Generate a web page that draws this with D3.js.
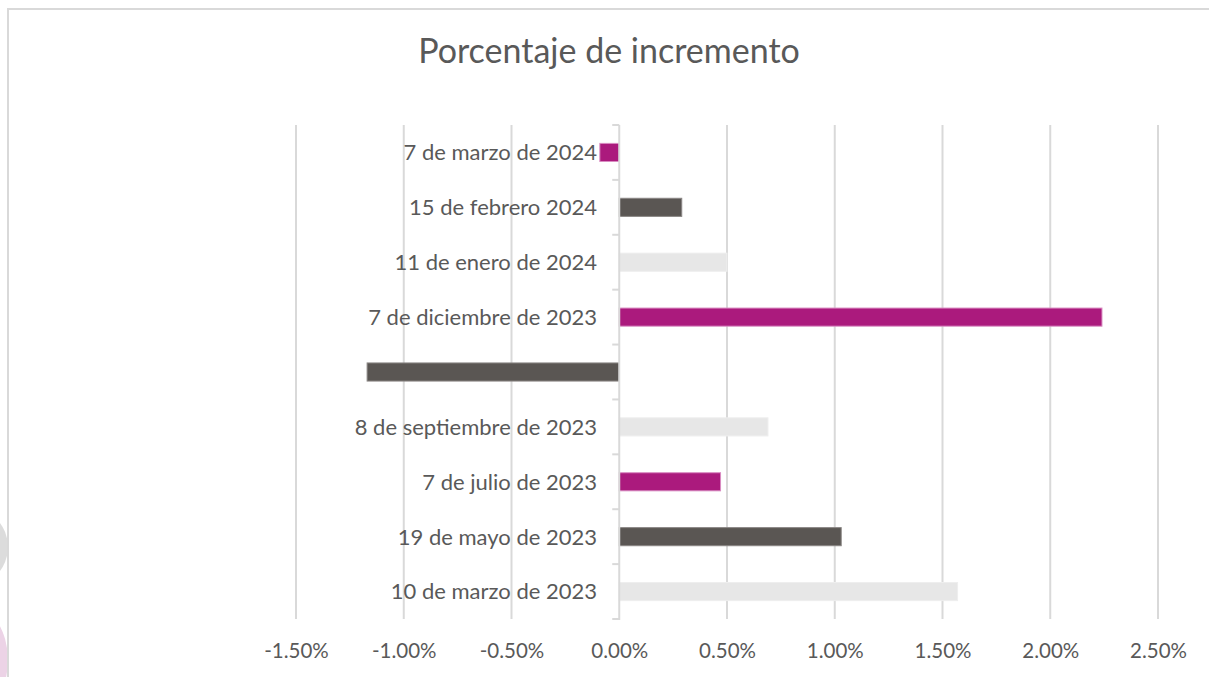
<!DOCTYPE html>
<html>
<head>
<meta charset="utf-8">
<script src="https://cdn.jsdelivr.net/npm/d3@7"></script>
<style>
  html, body { margin: 0; padding: 0; background: #ffffff; }
  svg { display: block; }
  text { font-family: Lato, "Noto Sans", sans-serif; fill: #595959; }
</style>
</head>
<body>
<div id="chart"></div>
<script>
// categories, top to bottom as shown
var categories = [
    "7 de marzo de 2024",
    "15 de febrero 2024",
    "11 de enero de 2024",
    "7 de diciembre de 2023",
    "6 de octubre de 2023",
    "8 de septiembre de 2023",
    "7 de julio de 2023",
    "19 de mayo de 2023",
    "10 de marzo de 2023"
];
// percentage change (fraction)
var values = [-0.0009, 0.0029, 0.0050, 0.0224, -0.0117, 0.0069, 0.0047, 0.0103, 0.0157];
var colorGroup = ["magenta", "dark", "light", "magenta", "dark", "light", "magenta", "dark", "light"];
var tickValues = [-0.015, -0.01, -0.005, 0, 0.005, 0.01, 0.015, 0.02, 0.025];
var title = "Porcentaje de incremento";

function init() {
    var w = 1209;
    var h = 677;

    var fills = { magenta: "#ab1a7d", dark: "#5a5653", light: "#e7e7e7" };
    var strokes = { magenta: "#d98cc2", dark: "#8a8684", light: "#eeeeee" };

    var svg = d3.select("#chart")
        .append("svg")
        .attr("width", w)
        .attr("height", h);

    // bits of the background peeking out on the left
    svg.append("ellipse")
        .attr("cx", -30).attr("cy", 547).attr("rx", 38).attr("ry", 39)
        .attr("fill", "#dcdcdc");
    svg.append("ellipse")
        .attr("cx", -30).attr("cy", 660).attr("rx", 38).attr("ry", 55)
        .attr("fill", "#ecd3e6");
    svg.append("rect")
        .attr("x", 8).attr("y", 0).attr("width", w).attr("height", h)
        .attr("fill", "#ffffff");

    // chart frame
    svg.append("rect")
        .attr("x", 8).attr("y", 9)
        .attr("width", 1300).attr("height", 800)
        .attr("fill", "#ffffff")
        .attr("stroke", "#d9d9d9")
        .attr("stroke-width", 2);

    var xScale = d3.scaleLinear()
        .domain([-0.015, 0.025])
        .range([296, 1158]);

    var yScale = d3.scaleBand()
        .domain(categories)
        .range([125, 619])
        .paddingInner(0.67)
        .paddingOuter(0.335);

    // vertical gridlines
    svg.append("g")
        .selectAll("line")
        .data(tickValues.filter(function(d) { return d !== 0; }))
        .enter()
        .append("line")
        .attr("x1", function(d) { return xScale(d); })
        .attr("x2", function(d) { return xScale(d); })
        .attr("y1", 125)
        .attr("y2", 619)
        .attr("stroke", "#d9d9d9")
        .attr("stroke-width", 2);

    // x tick labels
    var pct = d3.format(".2%");
    var xAxis = d3.axisBottom(xScale)
        .tickValues(tickValues)
        .tickFormat(function(d) { return pct(d).replace("\u2212", "-"); })
        .tickSize(0)
        .tickPadding(0);
    var gx = svg.append("g")
        .attr("transform", "translate(0,643)")
        .call(xAxis);
    gx.select(".domain").remove();
    gx.selectAll("text")
        .attr("dy", "0.71em")
        .style("font-size", "20.5px")
        .style("font-family", "Lato, sans-serif")
        .attr("fill", "#595959");

    // category labels (right aligned, left of zero axis)
    svg.append("g")
        .selectAll("text")
        .data(categories)
        .enter()
        .append("text")
        .attr("x", 597)
        .attr("y", function(d) { return yScale(d) + yScale.bandwidth() / 2; })
        .attr("dy", "0.36em")
        .attr("text-anchor", "end")
        .style("font-size", "22px")
        .text(function(d) { return d; });

    // bars
    svg.append("g")
        .selectAll("rect")
        .data(values)
        .enter()
        .append("rect")
        .attr("x", function(d) { return xScale(Math.min(0, d)); })
        .attr("y", function(d, i) { return yScale(categories[i]); })
        .attr("width", function(d) { return Math.abs(xScale(d) - xScale(0)); })
        .attr("height", yScale.bandwidth())
        .attr("fill", function(d, i) { return fills[colorGroup[i]]; })
        .attr("stroke", function(d, i) { return strokes[colorGroup[i]]; })
        .attr("stroke-width", 1);

    // zero axis with tick marks at band edges
    var axisG = svg.append("g");
    axisG.append("line")
        .attr("x1", xScale(0)).attr("x2", xScale(0))
        .attr("y1", 125).attr("y2", 620)
        .attr("stroke", "#d9d9d9")
        .attr("stroke-width", 2);
    var edges = categories.map(function(c) { return yScale(c) - yScale.step() * yScale.paddingInner() / 2; });
    edges.push(619);
    axisG.selectAll(".tk")
        .data(edges)
        .enter()
        .append("line")
        .attr("class", "tk")
        .attr("x1", xScale(0) - 7).attr("x2", xScale(0))
        .attr("y1", function(d) { return d; })
        .attr("y2", function(d) { return d; })
        .attr("stroke", "#d9d9d9")
        .attr("stroke-width", 2);

    // title
    svg.append("text")
        .attr("x", 609)
        .attr("y", 63)
        .attr("text-anchor", "middle")
        .style("font-size", "34px")
        .text(title);
}

window.onload = init;
</script>
</body>
</html>
